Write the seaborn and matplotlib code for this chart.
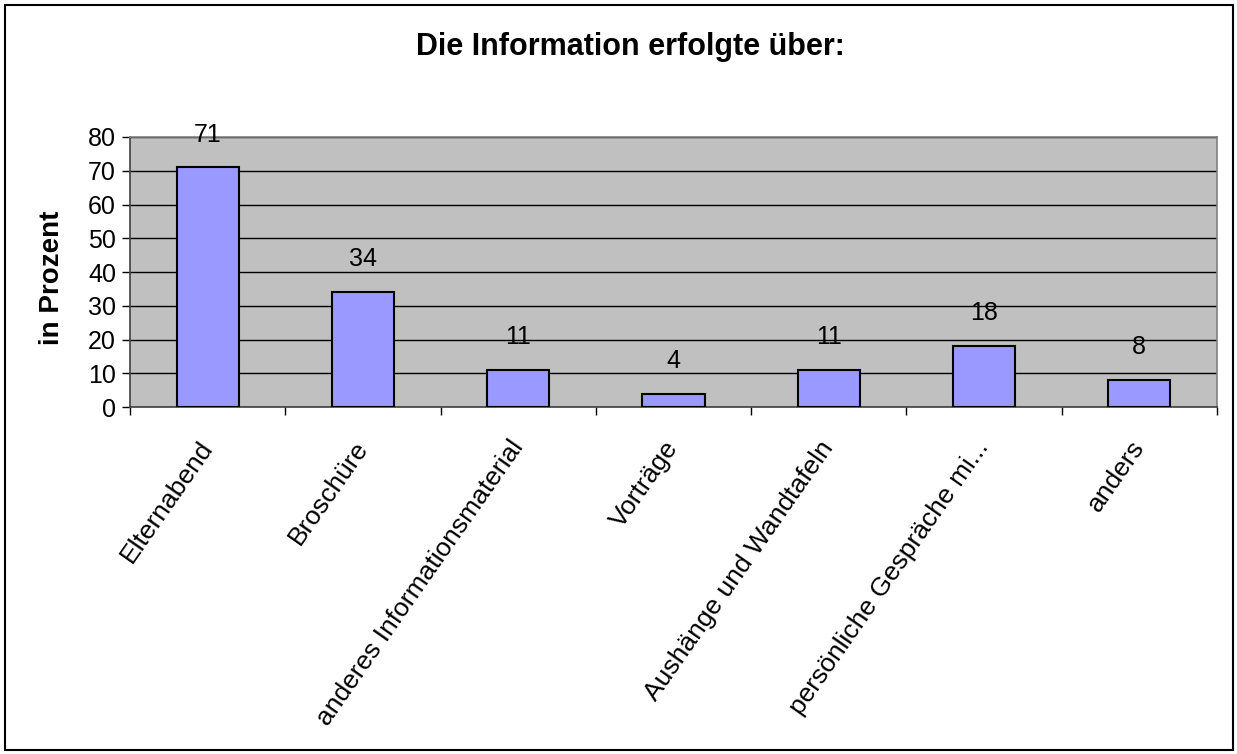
import matplotlib
matplotlib.use("Agg")
import matplotlib.pyplot as plt
import matplotlib.transforms as mtransforms
import seaborn as sns
import pandas as pd
from matplotlib.patches import Rectangle

categories = ["Elternabend", "Broschüre", "anderes Informationsmaterial", "Vorträge",
              "Aushänge und Wandtafeln", "persönliche Gespräche mi...", "anders"]
values = [71, 34, 11, 4, 11, 18, 8]
title = "Die Information erfolgte über:"
ylabel = "in Prozent"
yticks = [0, 10, 20, 30, 40, 50, 60, 70, 80]

sns.set_theme(style="white")
plt.rcParams["font.family"] = ["Liberation Sans", "DejaVu Sans"]
plt.rcParams["text.color"] = "black"
plt.rcParams["xtick.color"] = "black"
plt.rcParams["ytick.color"] = "black"
plt.rcParams["axes.labelcolor"] = "black"

df = pd.DataFrame({"Kategorie": categories, "Prozent": values})

fig = plt.figure(figsize=(12.37, 7.54), dpi=100)
ax = fig.add_axes([130 / 1237, 1 - 407 / 754, (1217 - 130) / 1237, (407 - 137) / 754])

sns.barplot(data=df, x="Kategorie", y="Prozent", color="#9999FF", edgecolor="black",
            linewidth=1.5, width=0.4, saturation=1, ax=ax, zorder=3)

ax.set_facecolor("#C0C0C0")
ax.set_ylim(0, 80)
ax.set_xlim(-0.5, len(categories) - 0.5)
ax.set_yticks(yticks)
ax.set_yticklabels([str(t) for t in yticks], fontsize=18)
ax.yaxis.grid(True, color="black", linewidth=1, zorder=1)
ax.set_axisbelow(True)

# category ticks sit between the bars
ax.set_xticks([i - 0.5 for i in range(len(categories) + 1)], minor=True)
ax.set_xticks(range(len(categories)))
ax.set_xticklabels(categories, rotation=55, ha="right", va="center",
                   rotation_mode="anchor", fontsize=19)
shift = mtransforms.ScaledTranslation(-8 / 100, 0, fig.dpi_scale_trans)
for lbl in ax.get_xticklabels():
    lbl.set_transform(lbl.get_transform() + shift)
ax.tick_params(axis="x", which="major", length=0, pad=26)
ax.tick_params(axis="x", which="minor", length=6, width=1, color="black", direction="out", bottom=True)
ax.tick_params(axis="y", length=6, width=1, color="black", direction="out", left=True, pad=4)

for side in ("top", "right"):
    ax.spines[side].set_color("#808080")
    ax.spines[side].set_linewidth(1.2)
for side in ("left", "bottom"):
    ax.spines[side].set_color("#404040")
    ax.spines[side].set_linewidth(1.2)

ax.set_xlabel("")
ax.set_ylabel(ylabel, fontsize=20, fontweight="bold")
ax.yaxis.set_label_coords(-0.06, 0.48)

for i, v in enumerate(values):
    ax.annotate(str(v), (i, v), xytext=(0, 15), textcoords="offset points",
                ha="center", va="bottom", fontsize=18)

fig.text(0.51, 1 - 47 / 754, title, ha="center", va="center", fontsize=22, fontweight="bold")

fig.patches.append(Rectangle((5 / 1237, 4 / 754), 1 - 9 / 1237, 1 - 9 / 754,
                             transform=fig.transFigure, fill=False, edgecolor="black",
                             linewidth=1.5))

fig.savefig("out.png", dpi=100)
